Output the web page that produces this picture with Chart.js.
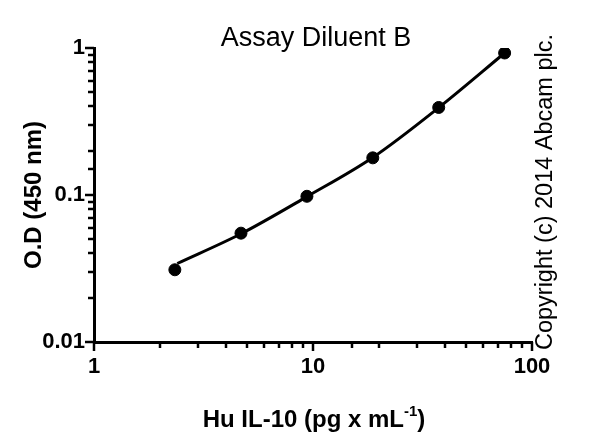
<!DOCTYPE html>
<html>
<head>
<meta charset="utf-8">
<script src="https://cdn.jsdelivr.net/npm/chart.js@4"></script>
<style>
  html, body { margin: 0; padding: 0; background: #fff; }
  #wrap { width: 600px; height: 438px; }
</style>
</head>
<body>
<div id="wrap"><canvas id="chart"></canvas></div>
<script>
// Standard concentrations (pg/mL) and measured O.D values
const concentrations = [2.34, 4.69, 9.38, 18.75, 37.5, 75];
const odValues = [0.031, 0.055, 0.098, 0.179, 0.394, 0.925];

// Fitted curve
const fitX = [2.4, 4.69, 9.38, 18.75, 37.5, 75];
const fitY = [0.0342, 0.0545, 0.0975, 0.18, 0.393, 0.925];

// Labelled ticks
const xTickLabels = [1, 10, 100];
const yTickLabels = [0.01, 0.1, 1];

// Texts
const titleText = 'Assay Diluent B';
const xTitleParts = ['Hu IL-10 (pg x mL', '-1', ')'];
const yTitleText = 'O.D (450 nm)';
const copyrightText = 'Copyright (c) 2014 Abcam plc.';

const FONT = "'Liberation Sans', Arial, sans-serif";

function isDecade(v) {
  const l = Math.log10(v);
  return Math.abs(l - Math.round(l)) < 1e-6;
}

function matchLabel(v, labels) {
  const hit = labels.find(l => Math.abs(v - l) / l < 1e-6);
  return hit === undefined ? '' : String(hit);
}

// Draws ticks (long for decades, short for the rest), title, x title and copyright
const decorations = {
  id: 'decorations',
  afterDraw(chart) {
    const ctx = chart.ctx;
    const xs = chart.scales.x;
    const ys = chart.scales.y;
    const area = chart.chartArea;
    ctx.save();
    ctx.strokeStyle = '#000';
    ctx.lineWidth = 2.5;
    xs.ticks.forEach(t => {
      const px = Math.round(xs.getPixelForValue(t.value));
      const len = isDecade(t.value) ? 9 : 6;
      ctx.beginPath();
      ctx.moveTo(px, area.bottom);
      ctx.lineTo(px, area.bottom + len);
      ctx.stroke();
    });
    ys.ticks.forEach(t => {
      const py = Math.round(ys.getPixelForValue(t.value));
      const len = isDecade(t.value) ? 9 : 6;
      ctx.beginPath();
      ctx.moveTo(area.left, py);
      ctx.lineTo(area.left - len, py);
      ctx.stroke();
    });

    ctx.fillStyle = '#000';
    // chart title
    ctx.font = '27px ' + FONT;
    ctx.textAlign = 'center';
    ctx.textBaseline = 'alphabetic';
    ctx.fillText(titleText, 316, 46);

    // x axis title with superscript
    ctx.font = 'bold 24px ' + FONT;
    const w0 = ctx.measureText(xTitleParts[0]).width;
    const w2 = ctx.measureText(xTitleParts[2]).width;
    ctx.font = 'bold 15px ' + FONT;
    const w1 = ctx.measureText(xTitleParts[1]).width;
    const total = w0 + w1 + w2;
    let x = 314 - total / 2;
    const base = 427;
    ctx.textAlign = 'left';
    ctx.font = 'bold 24px ' + FONT;
    ctx.fillText(xTitleParts[0], x, base);
    x += w0;
    ctx.font = 'bold 15px ' + FONT;
    ctx.fillText(xTitleParts[1], x, base - 11);
    x += w1;
    ctx.font = 'bold 24px ' + FONT;
    ctx.fillText(xTitleParts[2], x, base);

    // copyright note, rotated
    ctx.translate(546, 192);
    ctx.rotate(-Math.PI / 2);
    ctx.font = '23.5px ' + FONT;
    ctx.textAlign = 'center';
    ctx.textBaseline = 'middle';
    ctx.fillText(copyrightText, 0, 0);
    ctx.restore();
  }
};

const ctx = document.getElementById('chart').getContext('2d');
new Chart(ctx, {
  type: 'scatter',
  data: {
    datasets: [
      {
        label: 'Fit',
        data: fitX.map((v, i) => ({ x: v, y: fitY[i] })),
        showLine: true,
        borderColor: '#000',
        borderWidth: 3,
        pointRadius: 0,
        cubicInterpolationMode: 'monotone',
        fill: false
      },
      {
        label: 'Standards',
        data: concentrations.map((v, i) => ({ x: v, y: odValues[i] })),
        showLine: false,
        backgroundColor: '#000',
        borderColor: '#000',
        pointRadius: 6,
        pointStyle: 'circle'
      }
    ]
  },
  options: {
    responsive: true,
    maintainAspectRatio: false,
    animation: false,
    layout: { padding: { top: 48, right: 68, left: 0, bottom: 0 } },
    plugins: {
      legend: { display: false },
      tooltip: { enabled: false },
      title: { display: false }
    },
    scales: {
      x: {
        type: 'logarithmic',
        min: 1,
        max: 100,
        grid: { display: false },
        border: { display: true, color: '#000', width: 3 },
        ticks: {
          autoSkip: false,
          maxRotation: 0,
          padding: 4,
          color: '#000',
          font: { family: FONT, size: 22, weight: 'bold' },
          callback: v => matchLabel(v, xTickLabels)
        },
        afterFit: s => { s.height = 96; }
      },
      y: {
        type: 'logarithmic',
        min: 0.01,
        max: 1,
        grid: { display: false },
        border: { display: true, color: '#000', width: 3 },
        ticks: {
          autoSkip: false,
          padding: 1,
          color: '#000',
          font: { family: FONT, size: 22, weight: 'bold' },
          callback: v => matchLabel(v, yTickLabels)
        },
        title: {
          display: true,
          text: yTitleText,
          color: '#000',
          font: { family: FONT, size: 24, weight: 'bold' },
          padding: { top: 20, bottom: 0 }
        },
        afterFit: s => { s.width = 94; }
      }
    }
  },
  plugins: [decorations]
});
</script>
</body>
</html>
